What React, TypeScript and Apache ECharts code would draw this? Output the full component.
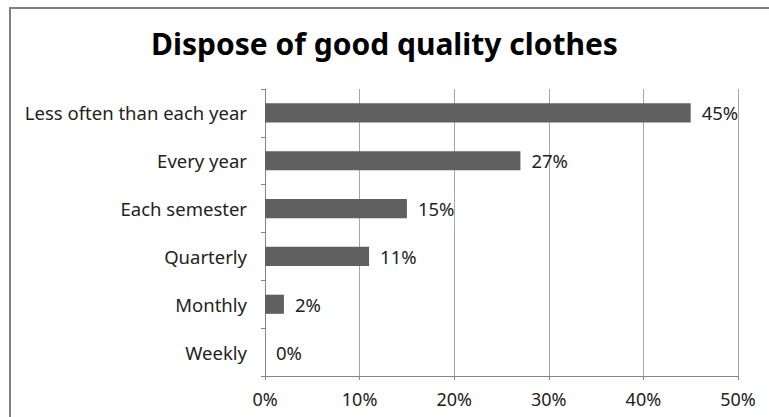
import React, { useEffect, useRef } from "react";
import * as echarts from "echarts";

const categories = ["Weekly", "Monthly", "Quarterly", "Each semester", "Every year", "Less often than each year"];
const values = [0, 2, 11, 15, 27, 45];
const xTicks = [0, 10, 20, 30, 40, 50];
const titleText = "Dispose of good quality clothes";

export default function App() {
  const ref = useRef<HTMLDivElement>(null);
  useEffect(() => {
    document.body.style.margin = "0";
    const chart = echarts.init(ref.current!, null, { renderer: "svg" });
    const font = "'Noto Sans', sans-serif";
    chart.setOption({
      animation: false,
      backgroundColor: "#ffffff",
      title: {
        text: titleText,
        left: "center",
        top: 23,
        textStyle: { fontFamily: font, fontSize: 30, fontWeight: "bold", color: "#000" },
      },
      graphic: [
        {
          type: "rect",
          shape: { x: 10, y: 8, width: 900, height: 600 },
          style: { fill: "none", stroke: "#808080", lineWidth: 2 },
          silent: true,
        },
      ],
      grid: { left: 265, right: 31, top: 89, bottom: 41, containLabel: false },
      xAxis: {
        type: "value",
        min: xTicks[0],
        max: xTicks[xTicks.length - 1],
        interval: 10,
        axisLine: { show: true, lineStyle: { color: "#868686" } },
        axisTick: { show: true, length: 4, lineStyle: { color: "#868686" } },
        splitLine: { show: true, lineStyle: { color: "#a6a6a6" } },
        axisLabel: {
          formatter: (v: number) => v + "%",
          fontFamily: font,
          fontSize: 18,
          color: "#222",
          margin: 14,
        },
      },
      yAxis: {
        type: "category",
        data: categories,
        axisLine: { show: true, lineStyle: { color: "#868686" } },
        axisTick: { show: true, length: 4, lineStyle: { color: "#868686" } },
        axisLabel: { fontFamily: font, fontSize: 18.5, color: "#222", margin: 18 },
      },
      series: [
        {
          type: "bar",
          data: values,
          barCategoryGap: "60%",
          itemStyle: { color: "#606060" },
          label: {
            show: true,
            position: "right",
            distance: 11,
            formatter: (p: any) => p.value + "%",
            fontFamily: font,
            fontSize: 18.5,
            color: "#222",
          },
        },
      ],
    });
    return () => chart.dispose();
  }, []);
  return <div ref={ref} style={{ width: 769, height: 417 }} />;
}
